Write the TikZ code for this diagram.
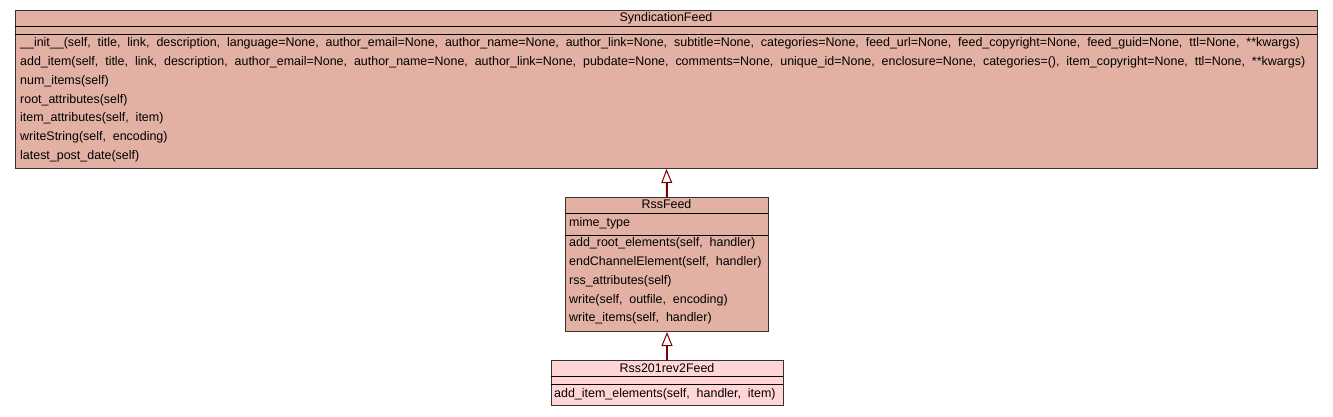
\documentclass[tikz,border=0pt]{standalone}
\usepackage{fontspec}
\setmainfont{Liberation Sans}[WordSpace=2.0]
\usetikzlibrary{arrows.meta}
\definecolor{boxfill}{HTML}{E2B1A4}
\definecolor{leaffill}{HTML}{FFD5D5}
\definecolor{boxline}{HTML}{333333}
\definecolor{arrowred}{HTML}{800000}
\tikzset{
  classbox/.style={draw=boxline, line width=1pt, rectangle, inner sep=0pt, anchor=north west},
  sepline/.style={draw=black, line width=1pt},
  member/.style={anchor=west, inner sep=0pt, font=\fontsize{12.45}{14}\selectfont, text=black},
  cname/.style={anchor=center, inner sep=0pt, font=\fontsize{12.45}{14}\selectfont, text=black},
  inherit/.style={draw=arrowred, line width=2pt, -{Triangle[length=14pt, width=11pt, fill=white, line width=1pt]}},
}
\begin{document}
\begin{tikzpicture}[x=1pt,y=-1pt]
\useasboundingbox (0,0) rectangle (1333,416);
% SyndicationFeed
\node[classbox, fill=boxfill, minimum width=1302pt, minimum height=158pt] (synd) at (15,10) {};
\draw[sepline] (15,26) -- (1317,26);
\draw[sepline] (15,34) -- (1317,34);
\node[cname] (syndt) at (666,18) {SyndicationFeed};
\node[member] (s1) at (20,43) {\_\_init\_\_(self, title, link, description, language=None, author\_email=None, author\_name=None, author\_link=None, subtitle=None, categories=None, feed\_url=None, feed\_copyright=None, feed\_guid=None, ttl=None, **kwargs)};
\node[member] (s2) at (20,62) {add\_item(self, title, link, description, author\_email=None, author\_name=None, author\_link=None, pubdate=None, comments=None, unique\_id=None, enclosure=None, categories=(), item\_copyright=None, ttl=None, **kwargs)};
\node[member] (s3) at (20,81) {num\_items(self)};
\node[member] (s4) at (20,100) {root\_attributes(self)};
\node[member] (s5) at (20,118) {item\_attributes(self, item)};
\node[member] (s6) at (20,137) {writeString(self, encoding)};
\node[member] (s7) at (20,156) {latest\_post\_date(self)};
% RssFeed
\node[classbox, fill=boxfill, minimum width=203pt, minimum height=134pt] (rss) at (565,197) {};
\draw[sepline] (565,213) -- (768,213);
\draw[sepline] (565,235) -- (768,235);
\node[cname] (rsst) at (666.5,204) {RssFeed};
\node[member] (r0) at (569,223) {mime\_type};
\node[member] (r1) at (569,243) {add\_root\_elements(self, handler)};
\node[member] (r2) at (569,262) {endChannelElement(self, handler)};
\node[member] (r3) at (569,281) {rss\_attributes(self)};
\node[member] (r4) at (569,300) {write(self, outfile, encoding)};
\node[member] (r5) at (569,318) {write\_items(self, handler)};
% Rss201rev2Feed
\node[classbox, fill=leaffill, minimum width=232pt, minimum height=45pt] (rss2) at (551,360) {};
\draw[sepline] (551,376) -- (783,376);
\draw[sepline] (551,384) -- (783,384);
\node[cname] (rss2t) at (667,368) {Rss201rev2Feed};
\node[member] (q1) at (554,394) {add\_item\_elements(self, handler, item)};
% inheritance
\draw[inherit] (rss.north) -- (synd.south);
\draw[inherit] (rss2.north -| rss.south) -- (rss.south);
\end{tikzpicture}
\end{document}
